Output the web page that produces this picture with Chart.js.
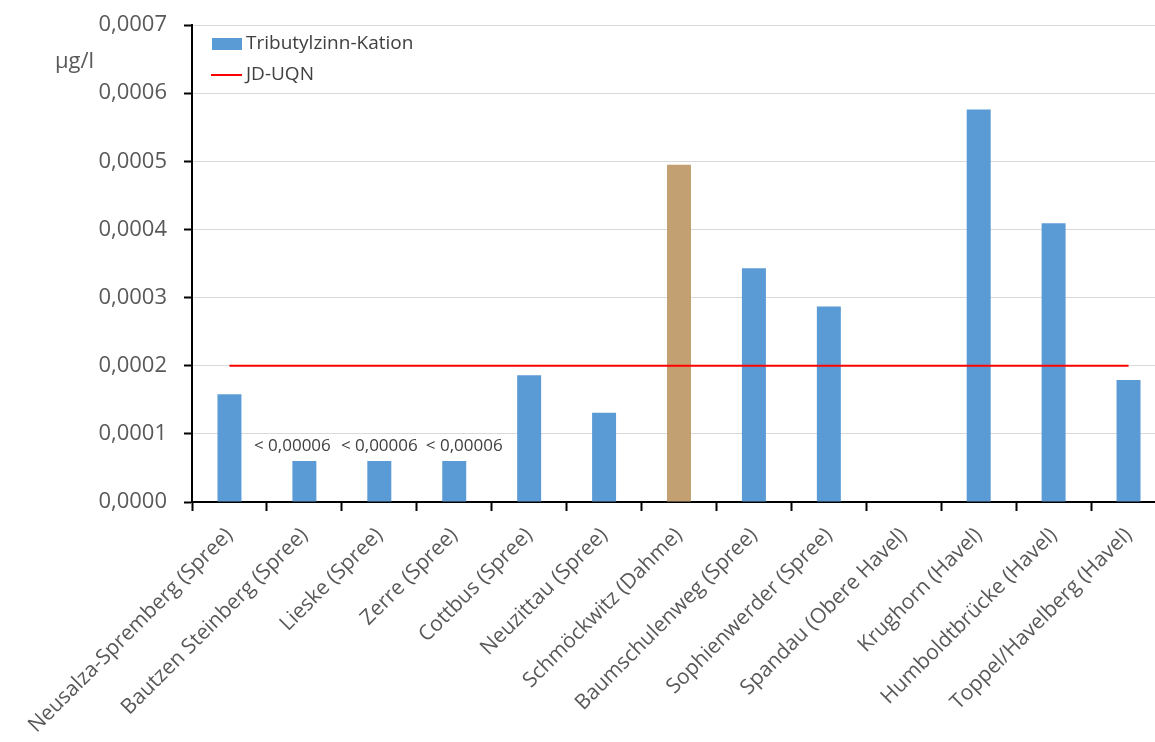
<!DOCTYPE html>
<html>
<head>
<meta charset="utf-8">
<script src="https://cdn.jsdelivr.net/npm/chart.js@4/dist/chart.umd.min.js"></script>
<style>
    html, body { margin: 0; padding: 0; background: #fff; overflow: hidden; }
    #wrap { width: 1166px; height: 742px; }
</style>
</head>
<body>
<div id="wrap"><canvas id="grafico"></canvas></div>
<script>
const messstellen = [
    'Neusalza-Spremberg (Spree)', 'Bautzen Steinberg (Spree)', 'Lieske (Spree)', 'Zerre (Spree)',
    'Cottbus (Spree)', 'Neuzittau (Spree)', 'Schmöckwitz (Dahme)', 'Baumschulenweg (Spree)',
    'Sophienwerder (Spree)', 'Spandau (Obere Havel)', 'Krughorn (Havel)', 'Humboldtbrücke (Havel)',
    'Toppel/Havelberg (Havel)'
];
const tbtWerte = [0.000158, 0.00006, 0.00006, 0.00006, 0.000186, 0.000131, 0.000495, 0.000343,
    0.000287, null, 0.000576, 0.000409, 0.000179];
const jdUqn = [0.0002, 0.0002, 0.0002, 0.0002, 0.0002, 0.0002, 0.0002, 0.0002, 0.0002, 0.0002,
    0.0002, 0.0002, 0.0002];
const bgLabels = ['', '< 0,00006', '< 0,00006', '< 0,00006', '', '', '', '', '', '', '', '', ''];
const yTicks = [0, 0.0001, 0.0002, 0.0003, 0.0004, 0.0005, 0.0006, 0.0007];

const blau = '#5B9BD5';
const braun = '#C3A072';
const farben = messstellen.map(function (m) { return m.indexOf('Schmöckwitz') === 0 ? braun : blau; });
// horizontale Verschiebung der BG-Beschriftungen (px), wie im Original
const bgVersatz = [0, -12, 0, 10, 0, 0, 0, 0, 0, 0, 0, 0, 0];

// Legende, Einheit und Bestimmungsgrenzen-Texte
const extras = {
    id: 'extras',
    afterDraw: function (chart) {
        const ctx = chart.ctx;
        const x = chart.scales.x, y = chart.scales.y;
        ctx.save();
        ctx.textBaseline = 'middle';
        ctx.fillStyle = '#595959';
        ctx.font = '22px "Open Sans"';
        ctx.textAlign = 'left';
        ctx.fillText('µg/l', 55, 62);

        ctx.font = '19px "Open Sans"';
        ctx.fillStyle = blau;
        ctx.fillRect(212, 38, 30, 12);
        ctx.fillStyle = '#404040';
        ctx.fillText('Tributylzinn-Kation', 246, 44);
        ctx.strokeStyle = '#FF0000';
        ctx.lineWidth = 2;
        ctx.beginPath();
        ctx.moveTo(211, 75);
        ctx.lineTo(242, 75);
        ctx.stroke();
        ctx.fillText('JD-UQN', 246, 75);

        ctx.font = '17px "Open Sans"';
        ctx.textAlign = 'center';
        ctx.textBaseline = 'bottom';
        bgLabels.forEach(function (t, i) {
            if (!t) return;
            ctx.fillText(t, x.getPixelForValue(i) + bgVersatz[i], y.getPixelForValue(tbtWerte[i]) - 6);
        });
        ctx.restore();
    }
};

window.onload = function () {
    const ctx = document.getElementById('grafico');
    new Chart(ctx.getContext('2d'), {
        data: {
            labels: messstellen,
            datasets: [{
                type: 'line',
                label: 'JD-UQN',
                data: jdUqn,
                borderColor: '#FF0000',
                borderWidth: 2,
                pointRadius: 0,
                fill: false,
                order: 0
            }, {
                type: 'bar',
                label: 'Tributylzinn-Kation',
                data: tbtWerte,
                backgroundColor: farben,
                barPercentage: 0.32,
                categoryPercentage: 1,
                order: 1
            }]
        },
        options: {
            responsive: true,
            maintainAspectRatio: false,
            animation: false,
            layout: { padding: { top: 25, right: 0, bottom: 0, left: 0 } },
            scales: {
                x: {
                    afterFit: function (s) { s.height = 240; },
                    grid: { drawOnChartArea: false, tickColor: '#000', tickLength: 9, tickWidth: 2, offset: true },
                    border: { color: '#000', width: 2 },
                    ticks: {
                        minRotation: 45, maxRotation: 45, autoSkip: false,
                        color: '#595959', font: { family: 'Open Sans', size: 21 }, padding: 12
                    }
                },
                y: {
                    min: 0,
                    max: 0.0007,
                    afterFit: function (s) { s.width = 192; s.paddingTop = 0; s.paddingBottom = 0; },
                    afterBuildTicks: function (s) { s.ticks = yTicks.map(function (v) { return { value: v }; }); },
                    grid: { color: '#D9D9D9', tickColor: '#000', tickLength: 8, tickWidth: 2 },
                    border: { color: '#000', width: 2 },
                    ticks: {
                        color: '#595959', font: { family: 'Open Sans', size: 22 }, padding: 17,
                        callback: function (v) { return v.toFixed(4).replace('.', ','); }
                    }
                }
            },
            plugins: {
                legend: { display: false },
                tooltip: { enabled: false }
            }
        },
        plugins: [extras]
    });
};
</script>
</body>
</html>
